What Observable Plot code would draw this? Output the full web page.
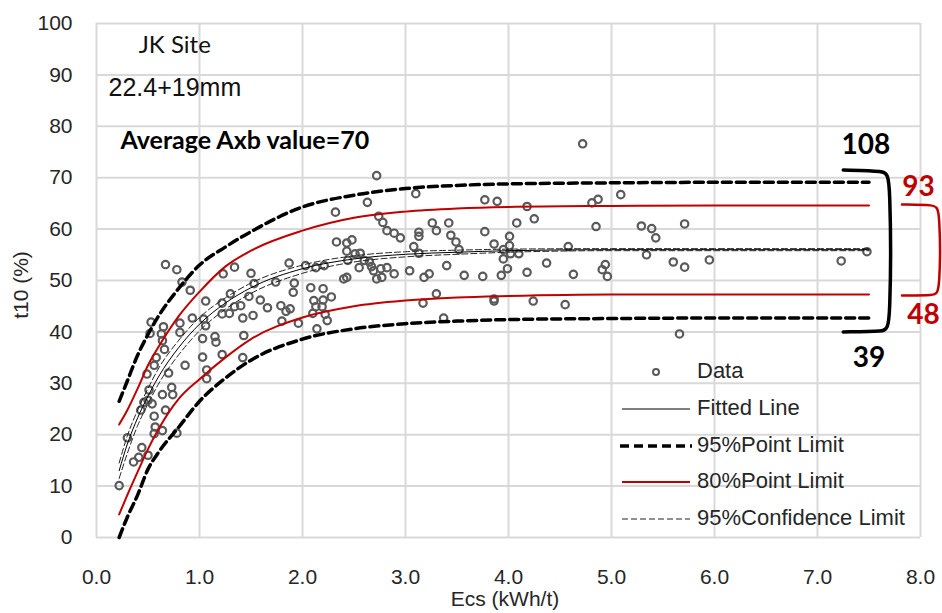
<!DOCTYPE html>
<html><head><meta charset="utf-8">
<script src="https://cdn.jsdelivr.net/npm/d3@7"></script>
<script src="https://cdn.jsdelivr.net/npm/@observablehq/plot@0.6"></script>
<style>
body{margin:0;background:#fff}
#chart{position:relative;width:942px;height:613px}
</style>
</head><body><div id="chart"></div>
<script>
// ---- tick values ----
const xTicks = [0, 1, 2, 3, 4, 5, 6, 7, 8];
const yTicks = [0, 10, 20, 30, 40, 50, 60, 70, 80, 90, 100];

// ---- scatter data (Ecs kWh/t, t10 %) ----
const dataEcs = [
 0.67,0.78,0.83,0.91,1.06,0.53,0.52,0.65,0.63,0.81,0.81,0.93,1.04,1.06,0.64,0.66,0.58,0.56,0.49,0.70,
 0.86,1.03,1.07,1.07,0.51,0.64,0.73,0.74,0.50,0.54,0.46,0.43,0.67,0.56,0.57,0.56,0.64,0.78,0.30,0.44,
 0.50,0.41,0.36,0.22,1.03,
 1.23,1.34,1.50,1.53,1.87,2.03,1.92,1.91,1.74,2.08,1.30,1.48,1.59,1.22,1.34,1.40,1.66,1.79,1.88,1.84,
 1.22,1.29,1.42,1.52,1.80,1.96,2.11,2.13,2.10,2.14,1.15,1.16,1.43,1.22,1.42,
 2.72,3.10,2.63,2.32,2.74,2.78,2.82,2.89,2.95,2.33,2.43,2.48,2.43,2.51,2.56,2.44,2.21,2.13,2.60,2.65,
 2.55,2.67,2.69,2.76,2.82,2.89,2.72,2.77,3.04,3.08,3.13,2.40,2.43,2.20,2.20,2.28,2.19,2.22,2.24,
 3.77,3.89,4.18,4.25,4.08,3.26,3.42,3.30,3.13,3.44,3.77,4.01,3.49,3.86,4.01,3.52,3.95,3.13,4.02,4.10,
 3.95,3.40,4.37,3.99,4.18,3.23,3.18,3.57,3.75,3.93,3.30,3.17,3.86,3.86,4.24,3.37,
 4.72,5.09,4.87,4.81,4.85,5.29,5.39,5.43,5.71,4.58,5.34,5.60,5.71,5.95,4.94,4.91,4.96,4.63,4.55,5.66,
 7.23,7.48
];
const dataT10 = [
 53.1,52.1,49.7,48.1,46.0,41.9,39.7,41.0,39.6,41.7,39.9,42.7,42.5,41.2,38.3,36.6,35.0,33.5,31.8,32.0,
 33.5,35.1,32.6,30.9,28.7,27.8,29.2,27.8,26.7,26.0,26.3,24.8,24.8,23.6,21.5,20.2,20.8,20.3,19.4,17.5,
 16.0,15.6,14.7,10.1,38.7,
 51.3,52.6,51.4,49.4,53.4,52.9,49.5,47.7,49.7,48.6,47.4,46.9,46.2,45.6,44.9,45.1,44.7,45.1,44.5,44.0,
 43.5,43.6,42.7,43.2,42.1,41.7,46.1,44.9,43.6,40.6,39.1,38.0,39.3,35.6,35.0,
 70.4,66.9,65.2,63.3,62.5,61.3,59.7,59.2,58.3,57.5,57.3,57.9,55.7,55.2,55.3,53.9,52.9,52.5,53.9,53.6,
 52.5,52.7,51.9,52.3,52.5,51.3,50.3,50.6,51.9,56.6,59.4,50.3,50.6,48.4,46.2,46.8,44.9,43.4,42.2,
 65.7,65.4,64.4,62.0,61.2,61.2,61.2,59.7,58.6,58.8,59.5,58.6,57.5,57.1,56.8,56.0,56.0,55.3,55.2,55.2,
 54.2,52.9,53.4,52.3,51.6,51.3,50.6,51.0,50.8,51.0,47.4,45.6,46.4,46.0,46.0,42.7,
 76.6,66.7,65.8,65.1,60.5,60.6,60.1,58.3,61.0,56.6,55.0,53.6,52.6,54.0,53.1,52.1,50.8,51.2,45.3,39.6,
 53.8,55.6
];

// ---- curves ----
const curveEcs  = [0.22,0.3, 0.4, 0.5, 0.6, 0.8, 1.0, 1.25,1.5, 2.0, 2.5, 3.0, 3.5, 4.0, 5.0, 6.0, 7.5];
const fitted    = [13.0,18.2,23.3,27.5,31.2,37.0,41.5,45.6,48.6,52.3,54.2,55.1,55.5,55.8,56.0,56.0,56.0];
const upper95   = [26.5,30.5,35.5,39.5,43.0,48.5,53.0,56.5,59.5,64.3,66.6,67.9,68.5,68.8,69.0,69.1,69.1];
const lower95   = [0.0, 4.0, 8.3, 13.3,16.5,21.5,26.5,31.0,34.5,38.6,40.6,41.6,42.1,42.4,42.6,42.7,42.7];
const upper80   = [22.0,24.8,29.0,33.5,37.0,43.1,47.8,52.7,55.8,59.7,62.2,63.4,64.0,64.3,64.5,64.6,64.6];
const lower80   = [4.5, 8.3, 12.8,17.2,21.0,27.0,30.8,35.0,38.6,42.8,45.0,46.1,46.7,47.0,47.3,47.3,47.3];
const upperConf = [14.5,19.8,24.8,29.0,32.8,38.4,42.8,46.6,49.5,53.0,54.8,55.6,55.9,56.1,56.2,56.2,56.2];
const lowerConf = [11.5,16.4,21.8,26.0,29.8,35.6,40.2,44.4,47.5,51.4,53.6,54.6,55.1,55.5,55.8,55.8,55.8];

// ---- texts ----
const siteLabel = "JK Site";
const sizeLabel = "22.4+19mm";
const axbLabel = "Average Axb value=70";
const range95Labels = ["108", "39"];
const range80Labels = ["93", "48"];
const legendLabels = ["Data", "Fitted Line", "95%Point Limit", "80%Point Limit", "95%Confidence Limit"];
const xLabel = "Ecs (kWh/t)";
const yLabel = "t10 (%)";

// ---- build ----
const RED = "#c00000";
const points = dataEcs.map((x, i) => ({x, y: dataT10[i]}));
const curves = curveEcs.map((x, i) => ({
  x, fit: fitted[i], u95: upper95[i], l95: lower95[i], u80: upper80[i], l80: lower80[i],
  uc: upperConf[i], lc: lowerConf[i]
}));
const last = curves[curves.length - 1];
const xEnd = last.x;
// brackets derived from the end values of the limit curves
const b95 = [
  {x: xEnd - 0.25, y: last.u95 + 2.4}, {x: xEnd + 0.16, y: last.u95 + 2.2},
  {x: xEnd + 0.21, y: last.u95 + 1.5}, {x: xEnd + 0.21, y: last.l95 - 2.0},
  {x: xEnd + 0.16, y: last.l95 - 2.6}, {x: xEnd - 0.25, y: last.l95 - 2.7}
];
const b80 = [
  {x: xEnd + 0.32, y: last.u80 + 0.2}, {x: xEnd + 0.64, y: last.u80 + 0.1},
  {x: xEnd + 0.69, y: last.u80 - 0.5}, {x: xEnd + 0.69, y: last.l80 + 0.3},
  {x: xEnd + 0.64, y: last.l80 - 0.2}, {x: xEnd + 0.32, y: last.l80 - 0.2}
];

const W = 942, H = 613;
const plot = Plot.plot({
  width: W, height: H,
  marginLeft: 96, marginRight: 22, marginTop: 23, marginBottom: 76,
  x: {domain: [0, 8]},
  y: {domain: [0, 100]},
  style: {fontFamily: "'Liberation Sans', Arial, sans-serif", fontSize: "20px", color: "#262626", background: "#fff", overflow: "visible"},
  marks: [
    Plot.gridX(xTicks, {stroke: "#d9d9d9", strokeOpacity: 1, strokeWidth: 2}),
    Plot.gridY(yTicks, {stroke: "#d9d9d9", strokeOpacity: 1, strokeWidth: 2}),
    Plot.axisX(xTicks, {tickSize: 0, tickPadding: 32, tickFormat: d => d.toFixed(1), label: null, fontSize: 21}),
    Plot.axisY(yTicks, {tickSize: 0, tickPadding: 24, label: null, fontSize: 21}),
    Plot.dot(points, {x: "x", y: "y", r: 3.7, stroke: "#5a5a5a", strokeWidth: 2.2, fill: "none"}),
    Plot.line(curves, {x: "x", y: "uc", stroke: "#222", strokeWidth: 1, strokeDasharray: "6,3", curve: "monotone-x"}),
    Plot.line(curves, {x: "x", y: "lc", stroke: "#222", strokeWidth: 1, strokeDasharray: "6,3", curve: "monotone-x"}),
    Plot.line(curves, {x: "x", y: "fit", stroke: "#000", strokeWidth: 1, curve: "monotone-x"}),
    Plot.line(curves, {x: "x", y: "u80", stroke: RED, strokeWidth: 2, curve: "monotone-x"}),
    Plot.line(curves, {x: "x", y: "l80", stroke: RED, strokeWidth: 2, curve: "monotone-x"}),
    Plot.line(curves, {x: "x", y: "u95", stroke: "#000", strokeWidth: 3.5, strokeDasharray: "9,5", curve: "monotone-x"}),
    Plot.line(curves, {x: "x", y: "l95", stroke: "#000", strokeWidth: 3.5, strokeDasharray: "9,5", curve: "monotone-x"}),
    Plot.line(b95, {x: "x", y: "y", stroke: "#000", strokeWidth: 3.5, strokeLinejoin: "round", curve: "basis"}),
    Plot.line(b80, {x: "x", y: "y", stroke: RED, strokeWidth: 2.5, strokeLinejoin: "round", curve: "basis"}),
    Plot.text([siteLabel], {x: 0.41, y: 95.7, text: d => d, textAnchor: "start", fontSize: 24, fontFamily: "Lato, 'Open Sans', sans-serif", fill: "#111"}),
    Plot.text([sizeLabel], {x: 0.117, y: 87.5, text: d => d, textAnchor: "start", fontSize: 25, letterSpacing: -0.4, fill: "#111"}),
    Plot.text([axbLabel], {x: 0.233, y: 77.2, text: d => d, textAnchor: "start", fontSize: 25, fontWeight: "bold", fontFamily: "Lato, 'Open Sans', sans-serif", fill: "#000"}),
    Plot.text(range95Labels, {x: [7.47, 7.5], y: [last.u95 + 7.3, last.l95 - 7.7], text: d => d, fontSize: 28, fontWeight: "bold", fontFamily: "Lato, 'Open Sans', sans-serif", fill: "#000"}),
    Plot.text(range80Labels, {x: [7.98, 8.03], y: [last.u80 + 3.5, last.l80 - 4.1], text: d => d, fontSize: 28, fontWeight: "bold", fontFamily: "Lato, 'Open Sans', sans-serif", fill: RED})
  ]
});
document.getElementById("chart").appendChild(plot);

// ---- axis titles and legend ----
const svg = d3.select(plot);
svg.append("text").attr("x", 505).attr("y", 600).attr("text-anchor", "middle").attr("dominant-baseline", "middle")
  .attr("font-size", 21).attr("fill", "#262626").text(xLabel);
svg.append("text").attr("transform", "translate(22,285) rotate(-90)").attr("text-anchor", "middle").attr("dominant-baseline", "middle")
  .attr("font-size", 21).attr("fill", "#262626").text(yLabel);

const lg = svg.append("g").attr("font-size", 22).attr("fill", "#262626").attr("text-anchor", "start");
const rowY = [372, 409, 446, 482, 519];
const swatches = [
  g => g.append("circle").attr("cx", 656).attr("r", 3).attr("fill", "none").attr("stroke", "#5a5a5a").attr("stroke-width", 2),
  g => g.append("line").attr("x1", 622).attr("x2", 690).attr("stroke", "#000").attr("stroke-width", 1),
  g => g.append("line").attr("x1", 620).attr("x2", 692).attr("stroke", "#000").attr("stroke-width", 3.5).attr("stroke-dasharray", "9,5"),
  g => g.append("line").attr("x1", 622).attr("x2", 690).attr("stroke", RED).attr("stroke-width", 2),
  g => g.append("line").attr("x1", 622).attr("x2", 690).attr("stroke", "#222").attr("stroke-width", 1).attr("stroke-dasharray", "6,3")
];
legendLabels.forEach((t, i) => {
  const g = lg.append("g").attr("transform", `translate(0,${rowY[i]})`);
  swatches[i](g);
  g.append("text").attr("x", 697).attr("text-anchor", "start").attr("dominant-baseline", "middle").text(t);
});
</script>
</body></html>
